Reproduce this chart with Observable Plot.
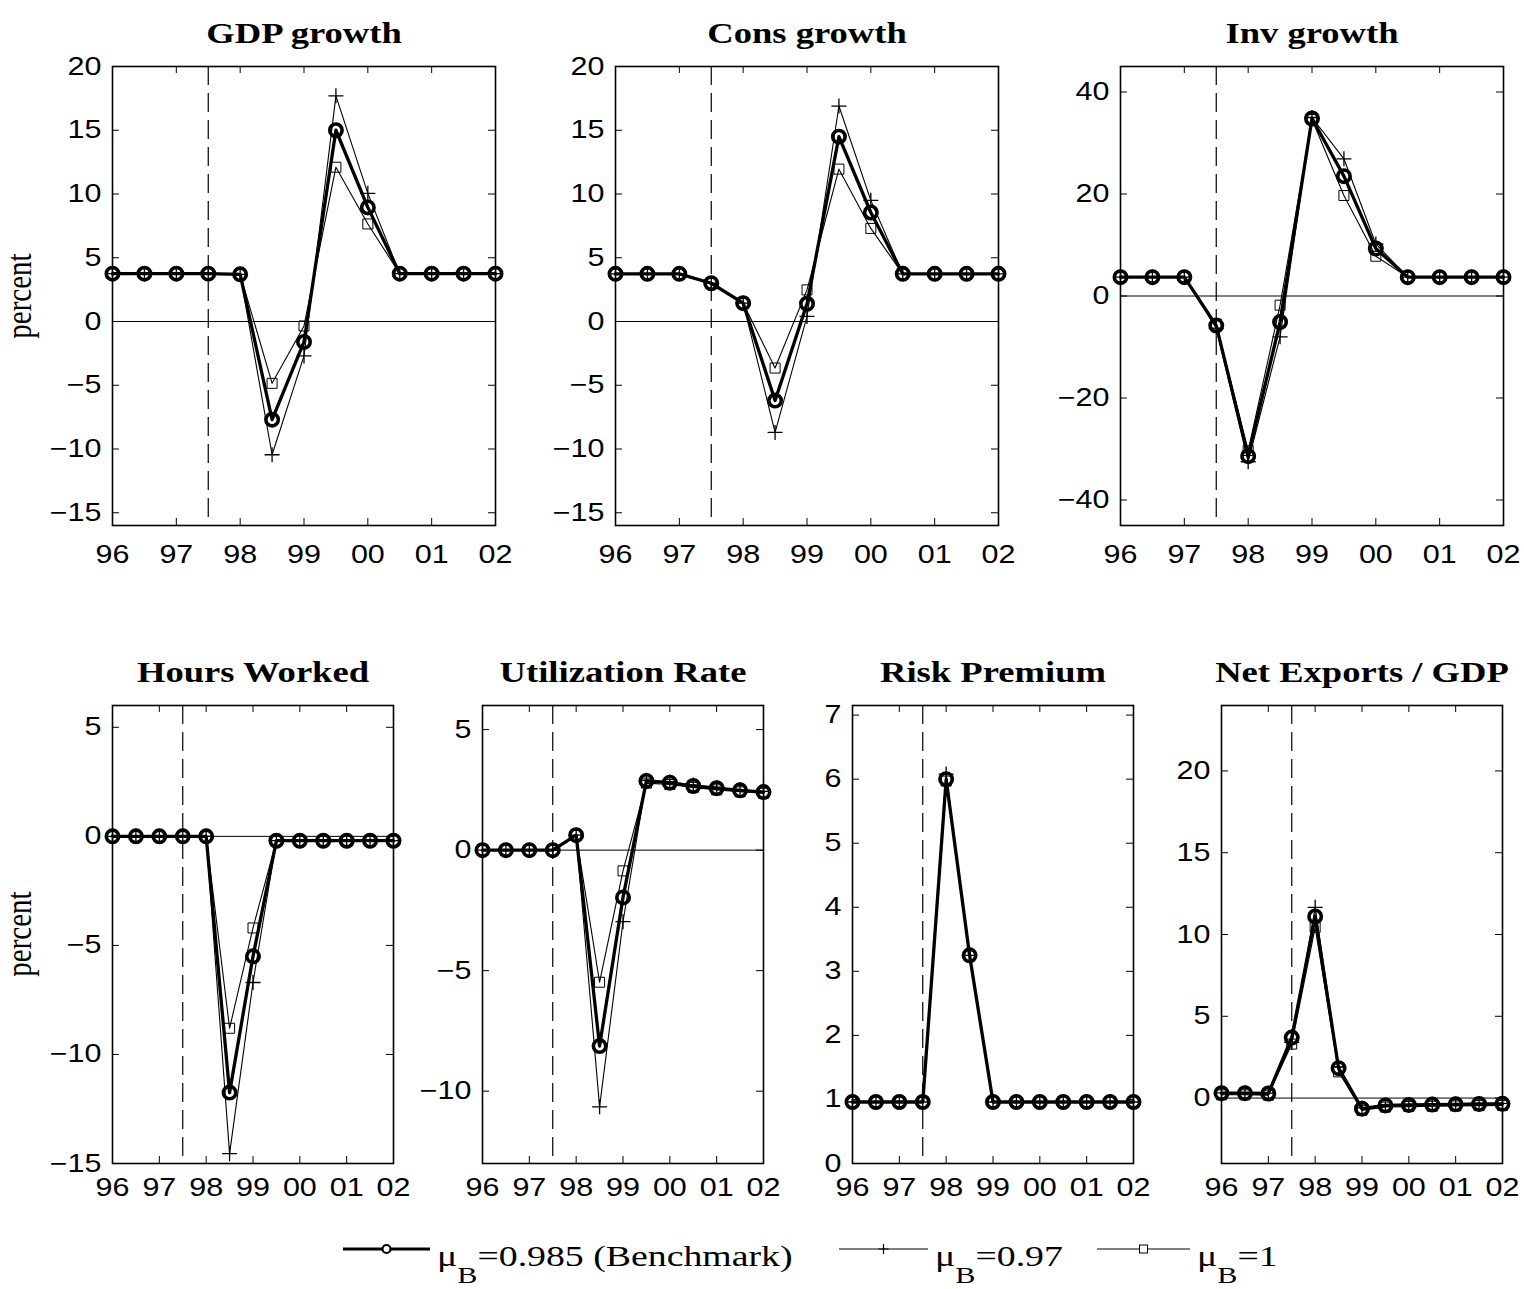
<!DOCTYPE html>
<html><head><meta charset="utf-8">
<script src="https://cdn.jsdelivr.net/npm/d3@7"></script>
<script src="https://cdn.jsdelivr.net/npm/@observablehq/plot@0.6"></script>
<style>
body{margin:0;background:#fff;}
#root{position:relative;width:1524px;height:1289px;overflow:hidden;background:#fff;}
#root > svg{position:absolute;max-width:none;}
</style></head><body><div id="root"></div>
<script>
// ---------- data ----------
const periods = [1996, 1996.5, 1997, 1997.5, 1998, 1998.5, 1999, 1999.5, 2000, 2000.5, 2001, 2001.5, 2002];
const yearTicks = [1996, 1997, 1998, 1999, 2000, 2001, 2002];
const yearLabels = ["96", "97", "98", "99", "00", "01", "02"];
const crisisStart = 1997.5;

const gdpBench = [3.75, 3.75, 3.75, 3.75, 3.7, -7.7, -1.6, 15.0, 8.95, 3.75, 3.75, 3.75, 3.75];
const gdp097   = [3.75, 3.75, 3.75, 3.75, 3.7, -10.45, -2.7, 17.7, 10.05, 3.75, 3.75, 3.75, 3.75];
const gdp1     = [3.75, 3.75, 3.75, 3.75, 3.7, -4.85, -0.35, 12.1, 7.65, 3.75, 3.75, 3.75, 3.75];

const consBench = [3.74, 3.74, 3.74, 3.0, 1.44, -6.2, 1.39, 14.5, 8.55, 3.74, 3.74, 3.74, 3.74];
const cons097   = [3.74, 3.74, 3.74, 3.0, 1.44, -8.7, 0.4, 16.9, 9.5, 3.74, 3.74, 3.74, 3.74];
const cons1     = [3.74, 3.74, 3.74, 3.0, 1.44, -3.65, 2.48, 11.95, 7.3, 3.74, 3.74, 3.74, 3.74];

const invBench = [3.7, 3.7, 3.7, -5.8, -31.4, -5.1, 34.8, 23.5, 9.3, 3.7, 3.7, 3.7, 3.7];
const inv097   = [3.7, 3.7, 3.7, -6.3, -32.5, -8.0, 35.0, 26.9, 10.2, 3.7, 3.7, 3.7, 3.7];
const inv1     = [3.7, 3.7, 3.7, -5.5, -30.3, -1.8, 34.6, 19.7, 7.8, 3.7, 3.7, 3.7, 3.7];

const hoursBench = [0, 0, 0, 0, 0, -11.75, -5.5, -0.2, -0.2, -0.2, -0.2, -0.2, -0.2];
const hours097   = [0, 0, 0, 0, 0, -14.55, -6.7, -0.2, -0.2, -0.2, -0.2, -0.2, -0.2];
const hours1     = [0, 0, 0, 0, 0, -8.8, -4.2, -0.2, -0.2, -0.2, -0.2, -0.2, -0.2];

const utilBench = [0, 0, 0, 0, 0.62, -8.13, -1.96, 2.87, 2.8, 2.66, 2.57, 2.48, 2.41];
const util097   = [0, 0, 0, 0, 0.62, -10.65, -2.97, 2.9, 2.83, 2.7, 2.6, 2.5, 2.44];
const util1     = [0, 0, 0, 0, 0.62, -5.48, -0.86, 2.78, 2.72, 2.6, 2.5, 2.42, 2.36];

const riskBench = [0.96, 0.96, 0.96, 0.96, 6.0, 3.25, 0.96, 0.96, 0.96, 0.96, 0.96, 0.96, 0.96];
const risk097   = [0.96, 0.96, 0.96, 0.96, 6.08, 3.25, 0.96, 0.96, 0.96, 0.96, 0.96, 0.96, 0.96];
const risk1     = [0.96, 0.96, 0.96, 0.96, 5.97, 3.24, 0.96, 0.96, 0.96, 0.96, 0.96, 0.96, 0.96];

const nxBench = [0.3, 0.3, 0.28, 3.7, 11.1, 1.83, -0.65, -0.45, -0.42, -0.4, -0.38, -0.36, -0.35];
const nx097   = [0.32, 0.32, 0.3, 3.4, 11.66, 1.9, -0.6, -0.42, -0.4, -0.38, -0.36, -0.34, -0.33];
const nx1     = [0.2, 0.2, 0.18, 3.3, 10.44, 1.6, -0.75, -0.55, -0.52, -0.5, -0.48, -0.46, -0.45];

const titles = ["GDP growth", "Cons growth", "Inv growth", "Hours Worked", "Utilization Rate", "Risk Premium", "Net Exports / GDP"];
const yDomains = [[-16, 20], [-16, 20], [-45, 45], [-15, 6], [-13, 6], [0, 7.15], [-4, 24]];
const yTickSets = [
  [-15, -10, -5, 0, 5, 10, 15, 20],
  [-15, -10, -5, 0, 5, 10, 15, 20],
  [-40, -20, 0, 20, 40],
  [-15, -10, -5, 0, 5],
  [-10, -5, 0, 5],
  [0, 1, 2, 3, 4, 5, 6, 7],
  [0, 5, 10, 15, 20]
];
const panelSeries = [
  [gdpBench, gdp097, gdp1],
  [consBench, cons097, cons1],
  [invBench, inv097, inv1],
  [hoursBench, hours097, hours1],
  [utilBench, util097, util1],
  [riskBench, risk097, risk1],
  [nxBench, nx097, nx1]
];
const legendLabels = ["=0.985 (Benchmark)", "=0.97", "=1"];

// ---------- layout (axes boxes in page pixels) ----------
const boxes = [
  {left: 112, top: 66, w: 383, h: 459, pad: 20},
  {left: 615, top: 66, w: 383, h: 459, pad: 20},
  {left: 1120, top: 66, w: 383, h: 459, pad: 20},
  {left: 112, top: 705, w: 281, h: 458, pad: 15},
  {left: 482, top: 705, w: 281, h: 458, pad: 15},
  {left: 852, top: 705, w: 281, h: 458, pad: 15},
  {left: 1221, top: 705, w: 281, h: 458, pad: 15}
];
const SANS = "'Liberation Sans', Arimo, Arial, Helvetica, sans-serif";
const SERIF = "'Liberation Serif', Tinos, 'Times New Roman', Times, serif";
const SX = 1.22; // horizontal stretch of the original typesetting

function stretchText(svg, s) {
  svg.querySelectorAll("text").forEach(t => {
    const tr = t.getAttribute("transform");
    if (tr) t.setAttribute("transform", tr + ` scale(${s},1)`);
    else {
      const x = +(t.getAttribute("x") || 0), y = +(t.getAttribute("y") || 0);
      t.setAttribute("x", 0); t.setAttribute("y", 0);
      t.setAttribute("transform", `translate(${x},${y}) scale(${s},1)`);
    }
  });
}
const fmt = d => (d < 0 ? "\u2212" + (-d) : String(d));

const root = document.getElementById("root");
const mL = 80, mR = 22, mB = 60;

titles.forEach((title, k) => {
  const b = boxes[k];
  const mT = k < 3 ? b.top : 70;
  const rows = panelSeries[k].map(s => periods.map((p, i) => ({x: p, y: s[i]})));
  const marks = [];
  if (yDomains[k][0] < 0) marks.push(Plot.ruleY([0], {stroke: "black", strokeWidth: 1}));
  marks.push(Plot.ruleX([crisisStart], {stroke: "black", strokeWidth: 1.2, strokeDasharray: "19,8"}));
  // inward ticks on all four sides
  marks.push(Plot.tickX(yearTicks, {x: d => d, insetBottom: b.h - 7, stroke: "black", strokeWidth: 1}));
  marks.push(Plot.tickX(yearTicks, {x: d => d, insetTop: b.h - 7, stroke: "black", strokeWidth: 1}));
  marks.push(Plot.tickY(yTickSets[k], {y: d => d, insetRight: b.w - 7, stroke: "black", strokeWidth: 1}));
  marks.push(Plot.tickY(yTickSets[k], {y: d => d, insetLeft: b.w - 7, stroke: "black", strokeWidth: 1}));
  // series
  marks.push(Plot.line(rows[0], {x: "x", y: "y", stroke: "black", strokeWidth: 3.3}));
  marks.push(Plot.dot(rows[0], {x: "x", y: "y", r: 6.2, stroke: "black", strokeWidth: 3.6, fill: "none"}));
  marks.push(Plot.line(rows[1], {x: "x", y: "y", stroke: "black", strokeWidth: 1.1}));
  marks.push(Plot.dot(rows[1], {x: "x", y: "y", symbol: "plus", r: 4.9, stroke: "black", strokeWidth: 1.3}));
  marks.push(Plot.line(rows[2], {x: "x", y: "y", stroke: "black", strokeWidth: 1.1}));
  marks.push(Plot.dot(rows[2], {x: "x", y: "y", symbol: "square", r: 5.64, stroke: "black", strokeWidth: 1, fill: "none"}));
  marks.push(Plot.frame({stroke: "black", strokeWidth: 1.6}));
  marks.push(Plot.axisX(yearTicks, {tickSize: 0, tickPadding: b.pad, fontSize: 25, label: null,
    fontFamily: SANS, tickFormat: d => yearLabels[yearTicks.indexOf(d)]}));
  marks.push(Plot.axisY(yTickSets[k], {tickSize: 0, tickPadding: 11, fontSize: 25, label: null,
    fontFamily: SANS, tickFormat: fmt}));
  marks.push(Plot.text([title], {text: d => d, frameAnchor: "top", dy: -24, lineAnchor: "bottom",
    fontFamily: SERIF, fontWeight: "bold", fontSize: 30, fill: "black"}));

  const svg = Plot.plot({
    width: b.w + mL + mR,
    height: mT + b.h + mB,
    marginLeft: mL, marginRight: mR, marginTop: mT, marginBottom: mB,
    x: {domain: [1996, 2002]},
    y: {domain: yDomains[k]},
    style: {background: "transparent", overflow: "visible", fontFamily: SANS, fontSize: "25px", color: "black"},
    marks
  });
  stretchText(svg, SX);
  svg.style.position = "absolute";
  svg.style.left = (b.left - mL) + "px";
  svg.style.top = (b.top - mT) + "px";
  root.appendChild(svg);
});

// ---------- overlay: y labels and legend ----------
const ov = d3.select(root).append("svg")
  .attr("width", 1524).attr("height", 1289)
  .style("position", "absolute").style("left", "0px").style("top", "0px")
  .style("pointer-events", "none");

[296, 934].forEach(cy => {
  ov.append("text").text("percent")
    .attr("transform", `translate(31,${cy}) rotate(-90) scale(1,1.2)`)
    .attr("text-anchor", "middle").style("font-family", SERIF)
    .attr("font-size", 29).attr("fill", "black");
});

const legendItems = [
  {x0: 343, x1: 430, sw: 3, marker: "circle"},
  {x0: 839, x1: 928, sw: 1.1, marker: "plus"},
  {x0: 1097, x1: 1190, sw: 1.1, marker: "square"}
];
const ly = 1249;
legendItems.forEach((it, i) => {
  ov.append("line").attr("x1", it.x0).attr("x2", it.x1).attr("y1", ly).attr("y2", ly)
    .attr("stroke", "black").attr("stroke-width", it.sw);
  const cx = (it.x0 + it.x1) / 2;
  if (it.marker === "circle") {
    ov.append("circle").attr("cx", cx).attr("cy", ly).attr("r", 4)
      .attr("fill", "white").attr("stroke", "black").attr("stroke-width", 2.2);
  } else if (it.marker === "plus") {
    ov.append("path").attr("d", `M${cx - 5},${ly}H${cx + 5}M${cx},${ly - 5}V${ly + 5}`)
      .attr("stroke", "black").attr("stroke-width", 1.2);
  } else {
    ov.append("rect").attr("x", cx - 4).attr("y", ly - 4).attr("width", 8).attr("height", 8)
      .attr("fill", "white").attr("stroke", "black").attr("stroke-width", 1);
  }
  const t = ov.append("text").attr("transform", `translate(${it.x1 + 7},1266) scale(1.26,1)`)
    .style("font-family", SERIF).attr("font-size", 30).attr("fill", "black");
  t.append("tspan").text("\u03bc");
  t.append("tspan").attr("font-size", 24).attr("dy", 17).text("B");
  t.append("tspan").attr("dy", -17).text(legendLabels[i]);
});
</script></body></html>
